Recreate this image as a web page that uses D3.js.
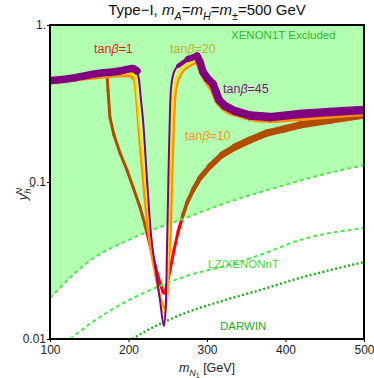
<!DOCTYPE html>
<html>
<head>
<meta charset="utf-8">
<script src="https://cdn.jsdelivr.net/npm/d3@7"></script>
<style>
  body { margin: 0; background: #fff; }
  svg { display: block; font-family: "Liberation Sans", Arial, sans-serif; }
</style>
</head>
<body>
<svg id="chart" width="374" height="378"></svg>
<script>
// axis ticks
var massTicks = [100, 200, 300, 400, 500];
var yTicks = [1, 0.1, 0.01];
var yTickLabels = ["1.", "0.1", "0.01"];

// [m_N1 (GeV), y_h]
var tan1 = [
  [101.3, 0.447], [138.2, 0.466], [170, 0.488], [172.6, 0.488], [173.9, 0.385], [176.4, 0.256],
  [181.5, 0.199], [189.2, 0.153], [198.1, 0.119], [205.7, 0.0929], [214.6, 0.0693], [221, 0.0532],
  [227.4, 0.0397], [233.8, 0.0296], [240.1, 0.0227], [244, 0.0199], [246.5, 0.0196], [249, 0.0221],
  [252.9, 0.0275], [258, 0.0369], [263.1, 0.048], [269.4, 0.0617], [274.5, 0.0735], [282.2, 0.0889],
  [291.1, 0.106], [303.8, 0.126], [319.1, 0.149], [335.7, 0.167], [354.8, 0.185], [376.4, 0.205],
  [399.4, 0.218], [418.5, 0.231], [456.7, 0.248], [500, 0.267]
];

var tan10Left = [[101.3, 0.434], [157.3, 0.466], [189.2, 0.481], [201.9, 0.481], [207, 0.460]];
var tan10Dip = [
  [207, 0.460], [209.6, 0.358], [212.1, 0.248], [214.6, 0.172], [218.5, 0.103], [224.8, 0.0495],
  [232.5, 0.0283], [240.1, 0.0188], [246.5, 0.0157], [249, 0.0177], [251.6, 0.0319], [254.2, 0.0573],
  [255.4, 0.103], [256.7, 0.160], [258, 0.248], [259.2, 0.333], [261.8, 0.415], [268.2, 0.495],
  [278.3, 0.548], [288.5, 0.581]
];
var tan10Right = [
  [288.5, 0.581], [294.9, 0.488], [301.3, 0.427], [307.7, 0.385], [312.7, 0.333], [322.9, 0.292],
  [342, 0.267], [380.3, 0.248], [418.5, 0.256], [500, 0.275]
];

var tan20Left = [[101.3, 0.440], [157.3, 0.474], [189.2, 0.495], [201.9, 0.495], [208.3, 0.474]];
var tan20Dip = [
  [208.3, 0.474], [210.8, 0.358], [213.4, 0.248], [217.2, 0.160], [221, 0.103], [227.4, 0.0495],
  [233.8, 0.0283], [240.1, 0.0182], [246.5, 0.0142], [249, 0.0177], [250.3, 0.0319], [251.6, 0.0573],
  [252.9, 0.103], [254.2, 0.160], [255.4, 0.248], [256.7, 0.333], [259.2, 0.427], [265.6, 0.517],
  [277.1, 0.573], [287.3, 0.607]
];
var tan20Right = [[287.3, 0.607], [293.6, 0.525], [300, 0.460], [305.1, 0.421]];

var tan45Left = [[101.3, 0.443], [125.5, 0.456], [157.3, 0.488], [189.2, 0.509], [205.7, 0.528], [210.8, 0.509]];
var tan45Dip = [
  [210.8, 0.509], [213.4, 0.447], [215.9, 0.333], [218.5, 0.248], [223.6, 0.103], [228.7, 0.046],
  [235, 0.0267], [240.1, 0.0177], [245.2, 0.0121], [247.8, 0.0177], [249, 0.0369], [250.3, 0.0768],
  [251.6, 0.160], [252.9, 0.288], [254.2, 0.397], [258, 0.502], [265.6, 0.565], [275.8, 0.607],
  [287.3, 0.635]
];
var tan45Right = [
  [263.1, 0.548], [275.8, 0.607], [287.3, 0.635], [291.1, 0.581], [294.9, 0.502], [301.3, 0.453],
  [307.7, 0.421], [311.5, 0.374], [315.3, 0.333], [322.9, 0.305], [335.7, 0.283], [354.8, 0.265],
  [380.3, 0.259], [418.5, 0.271], [456.7, 0.279], [500, 0.288]
];

// direct detection bounds
var xenon1t = [
  [100, 0.0182], [147.1, 0.0305], [205.7, 0.044], [223.6, 0.048], [269.4, 0.0581],
  [316.6, 0.0714], [399.4, 0.0957], [435, 0.1076], [500, 0.128]
];
var lzXenonnt = [
  [125.5, 0.01], [151, 0.0125], [189.2, 0.0165], [227.4, 0.0205], [278.3, 0.0256],
  [322.9, 0.0292], [367.5, 0.0343], [418.5, 0.0427], [500, 0.0509]
];
var darwin = [
  [204.5, 0.01], [227.4, 0.0116], [265.6, 0.0142], [322.9, 0.0177], [367.5, 0.0205],
  [418.5, 0.0245], [500, 0.0309]
];

var svg = d3.select("#chart"),
    margin = {top: 25, right: 10, bottom: 39, left: 50},
    width = +svg.attr("width") - margin.left - margin.right,
    height = +svg.attr("height") - margin.top - margin.bottom;

svg.append("rect").attr("width", 374).attr("height", 378).attr("fill", "#fff");

var x = d3.scaleLinear().domain([100, 500]).range([0, width]);
var y = d3.scaleLog().domain([0.01, 1]).range([height, 0]);

var g = svg.append("g")
    .attr("transform", "translate(" + margin.left + "," + margin.top + ")");

g.append("clipPath").attr("id", "clip")
  .append("rect").attr("width", width).attr("height", height);

var plot = g.append("g").attr("clip-path", "url(#clip)");

var line = d3.line()
    .x(function(d) { return x(d[0]); })
    .y(function(d) { return y(d[1]); })
    .curve(d3.curveMonotoneX);

function drawLine(data, color, w, dash) {
  plot.append("path")
      .datum(data)
      .attr("fill", "none")
      .attr("stroke", color)
      .attr("stroke-width", w)
      .attr("stroke-linecap", dash ? "butt" : "round")
      .attr("stroke-linejoin", "round")
      .attr("stroke-dasharray", dash || null)
      .attr("d", line);
}

// bands whose thickness changes along the curve
function drawTaper(data, color, widthOf) {
  plot.selectAll(null)
      .data(d3.pairs(data))
      .join("line")
      .attr("x1", function(d) { return x(d[0][0]); })
      .attr("y1", function(d) { return y(d[0][1]); })
      .attr("x2", function(d) { return x(d[1][0]); })
      .attr("y2", function(d) { return y(d[1][1]); })
      .attr("stroke", color)
      .attr("stroke-linecap", "round")
      .attr("stroke-width", function(d) { return widthOf((d[0][0] + d[1][0]) / 2); });
}

// tan beta = 1 sits under the excluded shading (turns brown there)
drawTaper(tan1, "#ff0000", d3.scaleLinear().domain([240, 262, 290, 335, 500]).range([3, 3, 5, 7, 7.5]).clamp(true));

// XENON1T excluded region
plot.append("path")
    .datum(xenon1t)
    .attr("fill", "#00ff00")
    .attr("fill-opacity", 0.3)
    .attr("d", d3.area()
        .x(function(d) { return x(d[0]); })
        .y0(y(1))
        .y1(function(d) { return y(d[1]); })
        .curve(d3.curveMonotoneX));

drawLine(xenon1t, "#4fe84f", 2, "4,3");
drawLine(lzXenonnt, "#4fe84f", 2, "4,3");
drawLine(darwin, "#14b414", 2.4, "2,2.4");

drawLine(tan10Left, "#ff9000", 5);
drawLine(tan10Dip, "#ff9000", 2.5);
drawLine(tan10Right, "#ff9000", 6);

drawLine(tan20Left, "#ffe000", 3);
drawLine(tan20Dip, "#ffe000", 1.8);
drawLine(tan20Right, "#ffe000", 3);

drawLine(tan45Left, "#800080", 7.5);
drawLine(tan45Dip, "#800080", 2);
drawTaper(tan45Right, "#800080", d3.scaleLinear().domain([263, 288, 320, 360, 500]).range([3, 7.5, 8, 8.5, 8.5]).clamp(true));

// axes
var xAxis = g.append("g")
    .attr("transform", "translate(0," + height + ")")
    .call(d3.axisBottom(x).tickValues(massTicks).tickSize(3).tickPadding(3));
var yAxis = g.append("g")
    .call(d3.axisLeft(y).tickValues(yTicks).tickSize(3).tickPadding(1)
        .tickFormat(function(d, i) { return yTickLabels[i]; }));

[xAxis, yAxis].forEach(function(a) {
  a.select(".domain").remove();
  a.selectAll("text").style("font-size", "12px").attr("fill", "#222")
      .style("font-family", "'Liberation Sans', Arial, sans-serif");
});

g.append("rect")
    .attr("width", width).attr("height", height)
    .attr("fill", "none").attr("stroke", "#000").attr("stroke-width", 2);

// rich text helper: parts = [text, italic, shift, dx]
function rich(sel, parts, size) {
  var cur = 0;
  parts.forEach(function(p) {
    var off = p[2] === "sub" ? size * 0.3 : p[2] === "sup" ? -size * 0.42 : p[2] === "sub2" ? size * 0.5 : 0;
    var fs = p[2] === "sub2" ? size * 0.55 : p[2] ? size * 0.72 : size;
    sel.append("tspan")
        .attr("dy", off - cur)
        .attr("dx", p[3] || null)
        .style("font-size", fs + "px")
        .style("font-style", p[1] ? "italic" : null)
        .text(p[0]);
    cur = off;
  });
}

var title = svg.append("text").attr("x", 207).attr("y", 15).attr("text-anchor", "middle").attr("fill", "#111");
rich(title, [["Type\u2212I, "], ["m", 1], ["A", 1, "sub"], ["="], ["m", 1], ["H", 1, "sub"], ["="], ["m", 1], ["\u00b1", 0, "sub"], ["=500 GeV"]], 15);

var xTitle = svg.append("text").attr("x", 207).attr("y", 372).attr("text-anchor", "middle").attr("fill", "#222");
rich(xTitle, [["m", 1], ["N", 1, "sub"], ["1", 0, "sub2"], [" [GeV]"]], 12.5);

var yTitle = svg.append("text").attr("transform", "translate(27,192) rotate(-90)").attr("text-anchor", "middle").attr("fill", "#222");
rich(yTitle, [["y", 1], ["h", 1, "sub"], ["N", 1, "sup", -6], ["L", 1, "sub2"]], 13);

function label(px, py, parts, color, size) {
  var t = svg.append("text").attr("x", px).attr("y", py).attr("fill", color)
      .style("font-size", size + "px");
  rich(t, parts, size);
}

label(94, 53, [["tan"], ["\u03b2", 1], ["=1"]], "#ee1c1c", 12.5);
label(170, 53, [["tan"], ["\u03b2", 1], ["=20"]], "#b8b428", 12.5);
label(223, 93, [["tan"], ["\u03b2", 1], ["=45"]], "#7a1478", 12.5);
label(185, 140, [["tan"], ["\u03b2", 1], ["=10"]], "#ff9420", 12.5);

label(231, 39, [["XENON1T Excluded"]], "#2fb82f", 11.5);
label(208, 268, [["LZ/XENONnT"]], "#3ddc3d", 11.5);
label(220, 330, [["DARWIN"]], "#25aa25", 11.5);
</script>
</body>
</html>
